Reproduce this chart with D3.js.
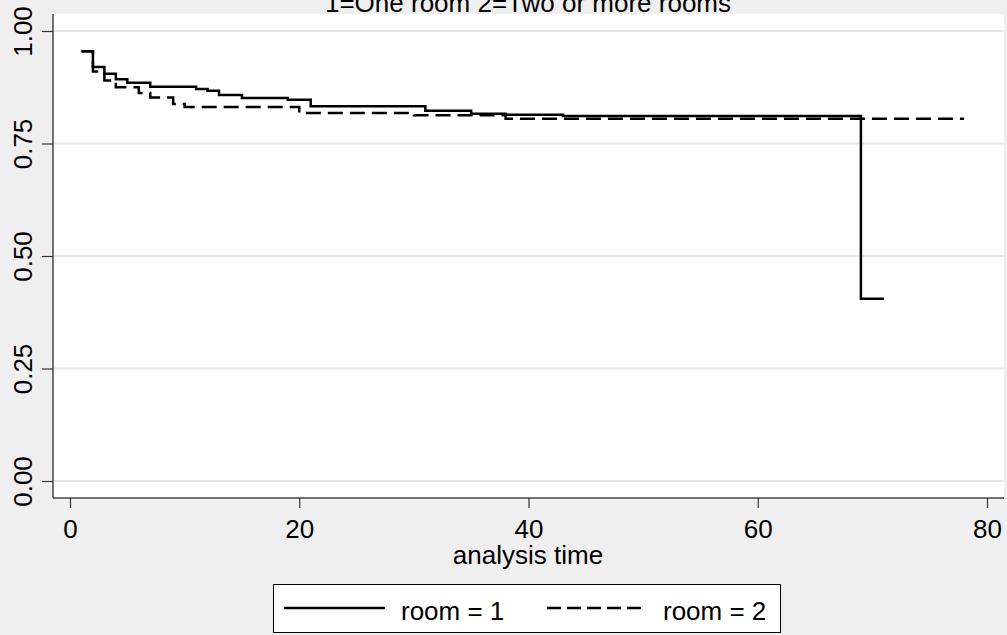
<!DOCTYPE html>
<html lang="en">
<head>
<meta charset="UTF-8">
<script src="https://d3js.org/d3.v7.min.js"></script>
<style>
  body { margin: 0; background: #efefef; }
  text { font-family: "Liberation Sans", Arial, sans-serif; fill: #000; }
</style>
<title>Kaplan-Meier</title>
</head>
<body>
<div class="canvas"></div>
<script>
const titleText = '1=One room  2=Two or more rooms'
const xTicks = [0, 20, 40, 60, 80]
const yTicks = [0, 0.25, 0.5, 0.75, 1]

// room = 1 (solid): step times and survival after the step
const room1Time = [1, 2, 3, 4, 5, 7, 11, 12, 13, 15, 19, 21, 31, 35, 38, 43, 69, 71]
const room1Surv = [0.955, 0.92, 0.905, 0.893, 0.885, 0.876, 0.871, 0.867, 0.858, 0.851, 0.847, 0.833, 0.823, 0.816, 0.814, 0.811, 0.405, 0.405]

// room = 2 (dashed)
const room2Time = [1, 2, 3, 4, 6, 7, 9, 10, 20, 30, 38, 78]
const room2Surv = [0.955, 0.91, 0.89, 0.875, 0.862, 0.852, 0.838, 0.831, 0.818, 0.813, 0.805, 0.805]

const W = 1007, H = 635
const FS = '26px'
const svg = d3.select('.canvas').append('svg').attr('width', W).attr('height', H)

const [pl, pr, pt, pb] = [53, 1004, 14, 498]
const x = d3.scaleLinear().domain([0, 80]).range([70, 987])
const y = d3.scaleLinear().domain([0, 1]).range([481, 31])

svg.append('rect').attr('x', pl).attr('y', pt).attr('width', pr - pl).attr('height', pb - pt).attr('fill', '#fff')

// gridlines
svg.selectAll('.grid').data(yTicks).enter().append('line')
  .attr('x1', pl).attr('x2', pr)
  .attr('y1', d => y(d)).attr('y2', d => y(d))
  .attr('stroke', '#e6e6e6').attr('stroke-width', 2)

// axes
const yAxisG = svg.append('g').attr('transform', `translate(${pl},0)`)
  .call(d3.axisLeft(y).tickValues(yTicks).tickFormat(d3.format('.2f')).tickSize(11).tickSizeOuter(0))
const xAxisG = svg.append('g').attr('transform', `translate(0,${pb})`)
  .call(d3.axisBottom(x).tickValues(xTicks).tickSize(10).tickSizeOuter(0))

yAxisG.select('.domain').attr('d', `M0,${pt}V${pb}`).attr('stroke', '#444').attr('stroke-width', 1.5)
xAxisG.select('.domain').attr('d', `M${pl},0H${pr}`).attr('stroke', '#444').attr('stroke-width', 1.5)
svg.selectAll('.tick line').attr('stroke', '#333').attr('stroke-width', 1.2)
yAxisG.selectAll('.tick text')
  .attr('x', null).attr('dy', null)
  .attr('transform', 'translate(-21,0) rotate(-90)')
  .attr('text-anchor', 'middle')
  .style('font-size', FS).style('font-family', '"Liberation Sans", Arial, sans-serif')
xAxisG.selectAll('.tick text')
  .attr('y', 40).attr('dy', null)
  .style('font-size', FS).style('font-family', '"Liberation Sans", Arial, sans-serif')

// survival curves
const line = d3.line().x(d => x(d[0])).y(d => y(d[1])).curve(d3.curveStepAfter)
const room1 = room1Time.map((t, i) => [t, room1Surv[i]])
const room2 = room2Time.map((t, i) => [t, room2Surv[i]])

svg.append('path').attr('d', line(room2)).attr('fill', 'none')
  .attr('stroke', '#000').attr('stroke-width', 2.5).attr('stroke-dasharray', '15,7')
svg.append('path').attr('d', line(room1)).attr('fill', 'none')
  .attr('stroke', '#000').attr('stroke-width', 2.5)

// title (cut at the top edge, as in the original) and axis title
svg.append('text').attr('x', 528).attr('y', 12).attr('text-anchor', 'middle')
  .style('font-size', FS).text(titleText)
svg.append('text').attr('x', 528).attr('y', 564).attr('text-anchor', 'middle')
  .style('font-size', FS).text('analysis time')

// legend
const lg = svg.append('g')
lg.append('rect').attr('x', 273.5).attr('y', 584.5).attr('width', 507).attr('height', 48)
  .attr('fill', '#fff').attr('stroke', '#000').attr('stroke-width', 1)
lg.append('line').attr('x1', 284).attr('x2', 385).attr('y1', 608).attr('y2', 608)
  .attr('stroke', '#000').attr('stroke-width', 2.5)
lg.append('text').attr('x', 401).attr('y', 620).style('font-size', FS).text('room = 1')
lg.append('line').attr('x1', 547).attr('x2', 647).attr('y1', 608).attr('y2', 608)
  .attr('stroke', '#000').attr('stroke-width', 2.5).attr('stroke-dasharray', '14,6')
lg.append('text').attr('x', 663).attr('y', 620).style('font-size', FS).text('room = 2')
</script>
</body>
</html>
